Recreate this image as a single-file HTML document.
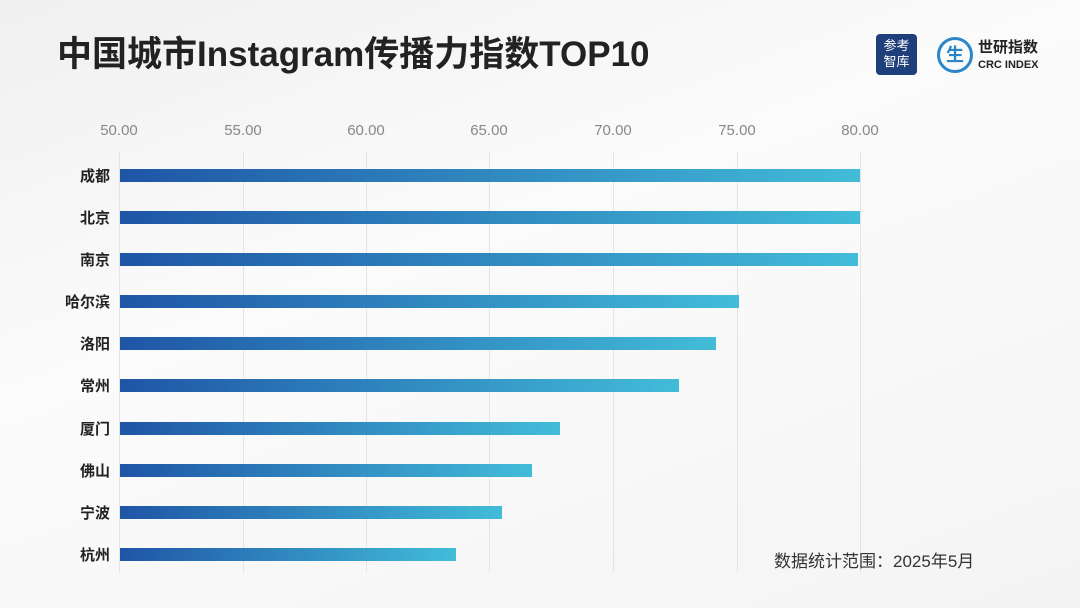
<!DOCTYPE html>
<html><head><meta charset="utf-8"><style>
body{margin:0;width:1080px;height:608px;overflow:hidden;background:linear-gradient(160deg,#f0f0f0 0%,#fbfbfb 40%,#f4f4f4 100%);font-family:"Liberation Sans","Noto Sans CJK SC",sans-serif;position:relative}
.t{position:absolute;left:57px;top:26px;font-size:35px;font-weight:bold;color:#222;letter-spacing:0}
.tick{position:absolute;top:122px;font-size:15px;color:#888;width:80px;text-align:center;margin-left:-40px}
.g{position:absolute;top:152px;height:420px;width:1px;background:#e4e4e4}
.lab{position:absolute;left:60px;width:50px;text-align:right;font-size:15px;font-weight:bold;color:#222}
.bar{position:absolute;left:120px;height:13px;background:linear-gradient(90deg,#1f55a6,#42bcd9)}
.note{position:absolute;left:774px;top:547px;font-size:17px;color:#333}
</style></head><body>
<div class="t">中国城市Instagram传播力指数TOP10</div>
<div style="position:absolute;left:876px;top:34px;width:41px;height:41px;background:#1f3f7a;border-radius:4px;color:#fff;font-size:13px;line-height:16px;text-align:center;padding-top:4px;box-sizing:border-box">参考<br>智库</div>
<div style="position:absolute;left:937px;top:37px;width:36px;height:36px;border-radius:50%;border:3px solid #2a86c8;box-sizing:border-box;color:#2a86c8;font-weight:bold;font-size:18px;text-align:center;line-height:30px">生</div>
<div style="position:absolute;left:978px;top:40px;font-size:15px;font-weight:bold;color:#222;line-height:16px">世研指数<br><span style="font-size:11px">CRC INDEX</span></div>
<div class="g" style="left:119px"></div><div class="g" style="left:243px"></div><div class="g" style="left:366px"></div><div class="g" style="left:489px"></div><div class="g" style="left:613px"></div><div class="g" style="left:737px"></div><div class="g" style="left:860px"></div>
<div class="tick" style="left:119px">50.00</div><div class="tick" style="left:243px">55.00</div><div class="tick" style="left:366px">60.00</div><div class="tick" style="left:489px">65.00</div><div class="tick" style="left:613px">70.00</div><div class="tick" style="left:737px">75.00</div><div class="tick" style="left:860px">80.00</div>
<div class="lab" style="top:165px">成都</div><div class="bar" style="top:169px;width:740px"></div>
<div class="lab" style="top:207px">北京</div><div class="bar" style="top:211px;width:740px"></div>
<div class="lab" style="top:249px">南京</div><div class="bar" style="top:253px;width:738px"></div>
<div class="lab" style="top:291px">哈尔滨</div><div class="bar" style="top:295px;width:619px"></div>
<div class="lab" style="top:333px">洛阳</div><div class="bar" style="top:337px;width:596px"></div>
<div class="lab" style="top:375px">常州</div><div class="bar" style="top:379px;width:559px"></div>
<div class="lab" style="top:418px">厦门</div><div class="bar" style="top:422px;width:440px"></div>
<div class="lab" style="top:460px">佛山</div><div class="bar" style="top:464px;width:412px"></div>
<div class="lab" style="top:502px">宁波</div><div class="bar" style="top:506px;width:382px"></div>
<div class="lab" style="top:544px">杭州</div><div class="bar" style="top:548px;width:336px"></div>
<div class="note">数据统计范围：2025年5月</div>
</body></html>
